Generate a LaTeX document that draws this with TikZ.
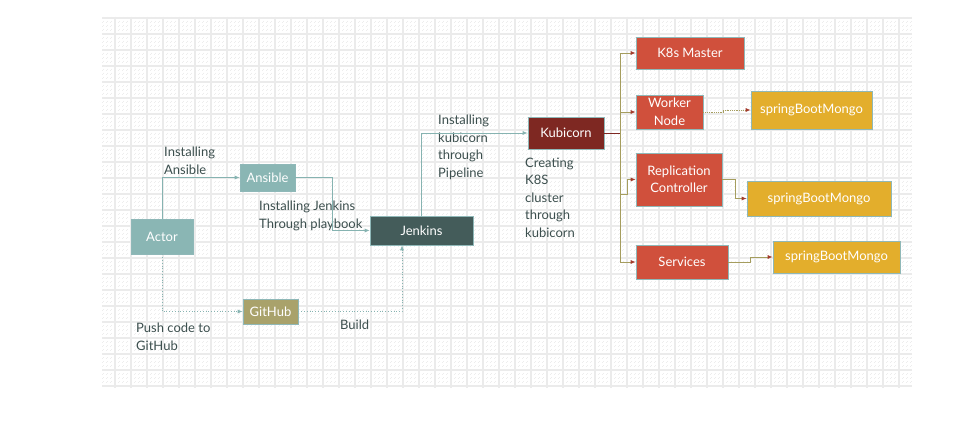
\documentclass[tikz,border=0pt]{standalone}
\usepackage{fontspec}
\setmainfont{Lato}
\usepackage{tikz}
\usetikzlibrary{arrows.meta,calc}
\usepackage{xcolor}
\definecolor{tealbox}{HTML}{8AB6B4}
\definecolor{olivebox}{HTML}{A9A26B}
\definecolor{jenkinsbox}{HTML}{445C5A}
\definecolor{kubibox}{HTML}{7E2822}
\definecolor{k8sbox}{HTML}{D0503C}
\definecolor{mongobox}{HTML}{E3AE2C}
\definecolor{boxline}{HTML}{8FB8B8}
\definecolor{labeltext}{HTML}{3C4F4E}
\definecolor{tealedge}{HTML}{86B3B1}
\definecolor{oliveedge}{HTML}{A59D5E}
\definecolor{tipred}{HTML}{A33A2C}
\colorlet{gridmajor}{gray!16}
\colorlet{gridminor}{gray!14}
\newcommand{\txtsize}{\fontsize{13}{17.5}\selectfont}
\tikzset{
    gridsty/.style={draw=gridmajor,line width=1.2pt},
    minorsty/.style={draw=gridminor,line width=0.5pt,dash pattern=on 0.6pt off 3.4pt},
    boxsty/.style={draw=boxline,line width=0.6pt,rectangle,text=white,font=\txtsize,align=center,inner sep=0pt},
    actsty/.style={boxsty,fill=tealbox},
    ghsty/.style={boxsty,fill=olivebox},
    jksty/.style={boxsty,fill=jenkinsbox},
    kbsty/.style={boxsty,fill=kubibox},
    k8sty/.style={boxsty,fill=k8sbox},
    mgsty/.style={boxsty,fill=mongobox},
    lblsty/.style={text=labeltext,font=\txtsize,align=left,inner sep=0pt,anchor=base west},
    tledgsty/.style={draw=tealedge,line width=0.8pt,-{Latex[length=5pt,width=4pt]}},
    oledgsty/.style={draw=oliveedge,line width=0.8pt,-{Latex[length=5pt,width=4pt,color=tipred]}},
}

\begin{document}
\begin{tikzpicture}[x=1pt,y=-1pt]
\useasboundingbox (0,0) rectangle (978,436);
\fill[white] (0,0) rectangle (978,436);

% background grid
\foreach \gx in {103,107,...,911} \draw[minorsty] (\gx,17) -- (\gx,388);
\foreach \gy in {18,22,...,386} \draw[minorsty] (102,\gy) -- (912,\gy);
\foreach \gx in {115,131,...,899} \draw[gridsty] (\gx,17) -- (\gx,388);
\foreach \gy in {18,34,...,386} \draw[gridsty] (102,\gy) -- (912,\gy);

% boxes
\node[actsty,minimum width=62pt,minimum height=35pt] (actor) at (162,236.5) {Actor};
\node[actsty,minimum width=55pt,minimum height=27pt] (ansible) at (267.5,177.5) {Ansible};
\node[ghsty,minimum width=55pt,minimum height=25pt] (github) at (270.5,311.5) {GitHub};
\node[jksty,minimum width=103pt,minimum height=29pt] (jenkins) at (421.5,230.5) {Jenkins};
\node[kbsty,minimum width=76pt,minimum height=32pt] (kubicorn) at (566,133) {Kubicorn};
\node[k8sty,minimum width=108pt,minimum height=32pt] (master) at (690,53) {K8s Master};
\node[k8sty,minimum width=67pt,minimum height=34pt] (worker) at (669.5,112) {Worker\\Node};
\node[k8sty,minimum width=86pt,minimum height=53pt] (replica) at (679,179.5) {Replication\\Controller};
\node[k8sty,minimum width=92pt,minimum height=34pt] (services) at (682,262) {Services};
\node[mgsty,minimum width=121pt,minimum height=38pt] (mongoA) at (811.5,110) {springBootMongo};
\node[mgsty,minimum width=144pt,minimum height=35pt] (mongoB) at (819,198.5) {springBootMongo};
\node[mgsty,minimum width=127pt,minimum height=32pt] (mongoC) at (836.5,257) {springBootMongo};

% labels (placed at the baseline of their last line)
\node[lblsty] (lblansible) at (164,174) {Installing\\Ansible};
\node[lblsty] (lblplaybook) at (259,228) {Installing Jenkins\\Through playbook};
\node[lblsty] (lblpush) at (136,350) {Push code to\\GitHub};
\node[lblsty] (lblbuild) at (340,329) {Build};
\node[lblsty] (lblpipeline) at (438,177) {Installing\\kubicorn\\through\\Pipeline};
\node[lblsty] (lblcluster) at (525,237) {Creating\\K8S\\cluster\\through\\kubicorn};

% connectors
\draw[tledgsty] (actor.north) |- (ansible.west);
\draw[tledgsty,dotted] (actor.south) |- (github.west);
\draw[tledgsty] (ansible.east) -- ++(37,0) |- (jenkins.west);
\draw[tledgsty,dotted] (github.east) -| ([xshift=-19.5pt]jenkins.south);
\draw[tledgsty] (jenkins.north) |- (kubicorn.west);

\coordinate (kbus) at (620,133);
\draw[draw=kubibox,line width=1pt] (kubicorn.east) -- (kbus);
\draw[oledgsty] (kbus) |- (master.west);
\draw[oledgsty] (kbus) |- (worker.west);
\draw[oledgsty] (kbus) -- ++(0,61) -- ++(7,0) |- (replica.west);
\draw[oledgsty] (kbus) |- (services.west);

\draw[oledgsty,densely dotted] (worker.east) -- ++(20,0) |- (mongoA.west);
\draw[oledgsty] (replica.east) -- ++(13,0) |- (mongoB.west);
\draw[oledgsty] (services.east) -- ++(22,0) |- (mongoC.west);
\end{tikzpicture}
\end{document}
